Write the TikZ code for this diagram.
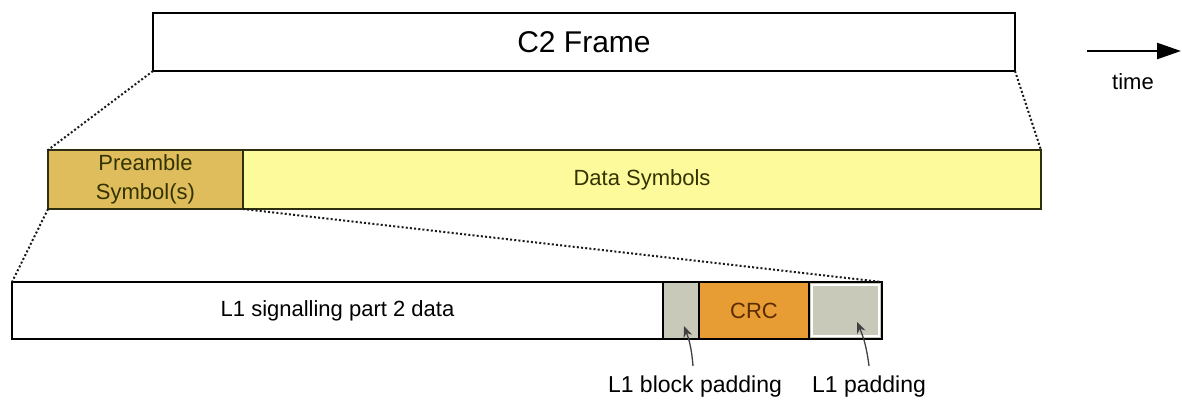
\documentclass[tikz,border=0pt]{standalone}
\usepackage{fontspec}
\setmainfont{Liberation Sans}
\usetikzlibrary{arrows.meta}
\definecolor{goldfill}{HTML}{E0BD5C}
\definecolor{yelfill}{HTML}{FDFA9C}
\definecolor{olivetext}{HTML}{333300}
\definecolor{olivedraw}{HTML}{2E2E10}
\definecolor{grayfill}{HTML}{C9C9BA}
\definecolor{crcfill}{HTML}{E79D33}
\definecolor{crctext}{HTML}{5A2A00}
\definecolor{dotcol}{HTML}{1A1A1A}
\tikzset{
  cell/.style={draw, anchor=north west, inner sep=0pt, outer sep=0pt, align=center},
  rowtwo/.style={cell, draw=olivedraw, line width=1.8pt, text=olivetext, font=\fontsize{22}{25}\selectfont},
  rowthree/.style={cell, draw=black, line width=1.8pt, font=\fontsize{22}{25}\selectfont},
  zoomline/.style={dotcol, line width=2pt, dash pattern=on 2pt off 2.2pt},
  pointer/.style={draw=black!75, line width=1.3pt, -{Stealth[length=11pt,width=9pt]}},
  lab/.style={font=\fontsize{23}{26}\selectfont, inner sep=0pt}
}
\begin{document}
\begin{tikzpicture}[x=1pt,y=-1pt]
\useasboundingbox (0,0) rectangle (1182,400);
% top frame
\node[cell, line width=2.8pt, minimum width=862pt, minimum height=58pt, font=\fontsize{30}{34}\selectfont] (c2) at (153,13) {C2 Frame};
% time arrow
\coordinate (ta) at (1087,51);
\coordinate (tb) at (1181,51);
\draw[line width=2.4pt, -{Triangle[length=24pt,width=16pt]}] (ta) -- (tb);
\node[font=\fontsize{22}{25}\selectfont, inner sep=0pt] (time) at (1133,82) {time};
% second row
\node[rowtwo, fill=goldfill, minimum width=195pt, minimum height=59pt] (pre) at (48,150) {Preamble\\[4pt]Symbol(s)};
\node[rowtwo, fill=yelfill, minimum width=798pt, minimum height=59pt] (data) at (243,150) {Data Symbols};
% third row
\node[rowthree, fill=white, minimum width=651pt, minimum height=57pt] (l1) at (12,282) {L1 signalling part 2 data};
\node[rowthree, fill=grayfill, minimum width=36pt, minimum height=57pt] (bpad) at (663,282) {};
\node[rowthree, fill=crcfill, text=crctext, minimum width=110pt, minimum height=57pt] (crc) at (699,282) {CRC};
\node[rowthree, fill=grayfill, minimum width=73pt, minimum height=57pt] (pad) at (809,282) {};
\draw[white, line width=1.6pt] ([xshift=3pt,yshift=-3pt]pad.north west) rectangle ([xshift=-3pt,yshift=3pt]pad.south east);
% zoom lines
\draw[zoomline] (c2.south west) -- (pre.north west);
\draw[zoomline] (c2.south east) -- (data.north east);
\draw[zoomline] (pre.south west) -- (l1.north west);
\draw[zoomline] (pre.south east) -- (pad.north east);
% labels
\node[lab] (lbp) at (695,387) {L1 block padding};
\node[lab] (lp) at (869,387) {L1 padding};
\coordinate (bps) at (693,366);
\coordinate (ps) at (869,366);
\coordinate (bpt) at (684,326);
\coordinate (pt) at (857,322);
\draw[pointer] (bps) to[bend right=8] (bpt);
\draw[pointer] (ps) to[bend right=8] (pt);
\end{tikzpicture}
\end{document}
